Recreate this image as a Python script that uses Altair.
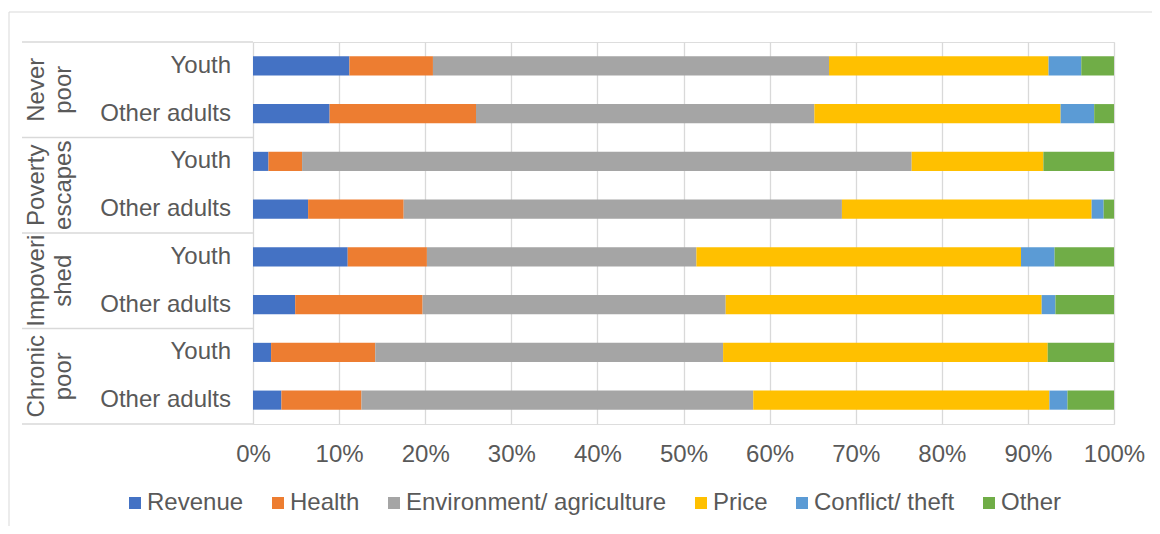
import altair as alt
import pandas as pd

# ---- data ----
groups = ["Never poor", "Poverty escapes", "Impoverished", "Chronic poor"]
group_labels = ["Never\npoor", "Poverty\nescapes", "Impoveri\nshed", "Chronic\npoor"]
subgroups = ["Youth", "Other adults"]
categories = ["Revenue", "Health", "Environment/ agriculture", "Price", "Conflict/ theft", "Other"]
colors = ["#4472C4", "#ED7D31", "#A5A5A5", "#FFC000", "#5B9BD5", "#70AD47"]

# rows in order: NP youth, NP other, PE youth, PE other, IM youth, IM other, CP youth, CP other
revenue = [11.2, 8.9, 1.8, 6.4, 11.0, 4.9, 2.1, 3.3]
health = [9.7, 17.0, 3.9, 11.1, 9.2, 14.8, 12.1, 9.3]
environment = [46.0, 39.3, 70.8, 50.9, 31.3, 35.2, 40.4, 45.5]
price = [25.5, 28.6, 15.3, 29.0, 37.7, 36.7, 37.7, 34.4]
conflict = [3.8, 3.9, 0.0, 1.4, 3.9, 1.6, 0.0, 2.1]
other = [3.8, 2.3, 8.2, 1.2, 6.9, 6.8, 7.7, 5.4]

x_ticks = [0, 10, 20, 30, 40, 50, 60, 70, 80, 90, 100]

# ---- tables ----
series = [revenue, health, environment, price, conflict, other]
keys = []
row_sub = []
row_grp = []
for g in groups:
    for s in subgroups:
        keys.append(g + " | " + s)
        row_sub.append(s)
        row_grp.append(g)

records = []
for r, k in enumerate(keys):
    for ci, cat in enumerate(categories):
        records.append({"key": k, "category": cat, "order": ci, "value": series[ci][r]})
df = pd.DataFrame(records)

rows_df = pd.DataFrame({"key": keys, "sub": row_sub, "group": row_grp})
youth_df = rows_df[rows_df["sub"] == "Youth"].copy()
youth_df["label"] = group_labels
last_df = rows_df.tail(1)

TEXT = "#595959"
GRID = "#d9d9d9"
FONT = "Liberation Sans"
FS = 24
W, H = 861, 382
STEP = H / len(keys)

yscale = alt.Scale(domain=keys, paddingInner=0.6, paddingOuter=0.3)

def Y():
    return alt.Y("key:N", sort=keys, scale=yscale, axis=None)

border = alt.Chart(pd.DataFrame({"a": [0]})).mark_rect(
    filled=False, stroke=GRID, strokeWidth=1
).encode(
    x=alt.value(-244), x2=alt.value(1100), y=alt.value(-30), y2=alt.value(700)
)

bars = alt.Chart(df).transform_stack(
    stack="value", as_=["start", "end"], groupby=["key"],
    sort=[alt.SortField("order", order="ascending")]
).mark_bar().encode(
    x=alt.X("start:Q", scale=alt.Scale(domain=[0, 100], nice=False),
            axis=alt.Axis(values=x_ticks, labelExpr="datum.value + '%'", grid=True,
                          gridColor=GRID, gridWidth=1.3, domain=False, ticks=False,
                          labelFontSize=FS, labelColor=TEXT, labelFont=FONT,
                          labelPadding=18, labelFlush=False, labelOverlap=False,
                          title=None)),
    x2="end:Q",
    y=Y(),
    color=alt.Color("category:N", scale=alt.Scale(domain=categories, range=colors),
                    legend=alt.Legend(orient="none", legendX=-130, legendY=449,
                                      direction="horizontal", columns=6, title=None,
                                      symbolType="square", symbolSize=144,
                                      symbolStrokeWidth=0, symbolOpacity=1,
                                      labelFontSize=FS, labelColor=TEXT, labelFont=FONT,
                                      labelOffset=0, columnPadding=22, padding=0,
                                      labelLimit=400)),
    order=alt.Order("order:Q"),
)

seps = alt.Chart(youth_df).mark_rule(color=GRID, strokeWidth=1.3, yOffset=-STEP / 2).encode(
    y=Y(), x=alt.value(-231), x2=alt.value(0)
)
bottom_sep = alt.Chart(last_df).mark_rule(color=GRID, strokeWidth=1.3, yOffset=STEP / 2).encode(
    y=Y(), x=alt.value(-231), x2=alt.value(0)
)

row_labels = alt.Chart(rows_df).mark_text(
    align="right", baseline="middle", fontSize=FS, color=TEXT, font=FONT
).encode(y=Y(), x=alt.value(-22), text="sub:N")

group_text = alt.Chart(youth_df).mark_text(
    angle=270, align="center", baseline="middle", fontSize=FS, color=TEXT, font=FONT,
    lineBreak="\n", lineHeight=27.5, yOffset=STEP / 2
).encode(y=Y(), x=alt.value(-216.5), text="label:N")

chart = alt.layer(border, bars, seps, bottom_sep, row_labels, group_text).properties(
    width=W, height=H,
    padding={"left": 245, "top": 34, "right": 38, "bottom": 102},
    autosize=alt.AutoSizeParams(type="none"),
).configure_view(stroke="transparent").configure(font=FONT)

chart.save("out.html", embed_options={"renderer": "svg", "actions": False})
